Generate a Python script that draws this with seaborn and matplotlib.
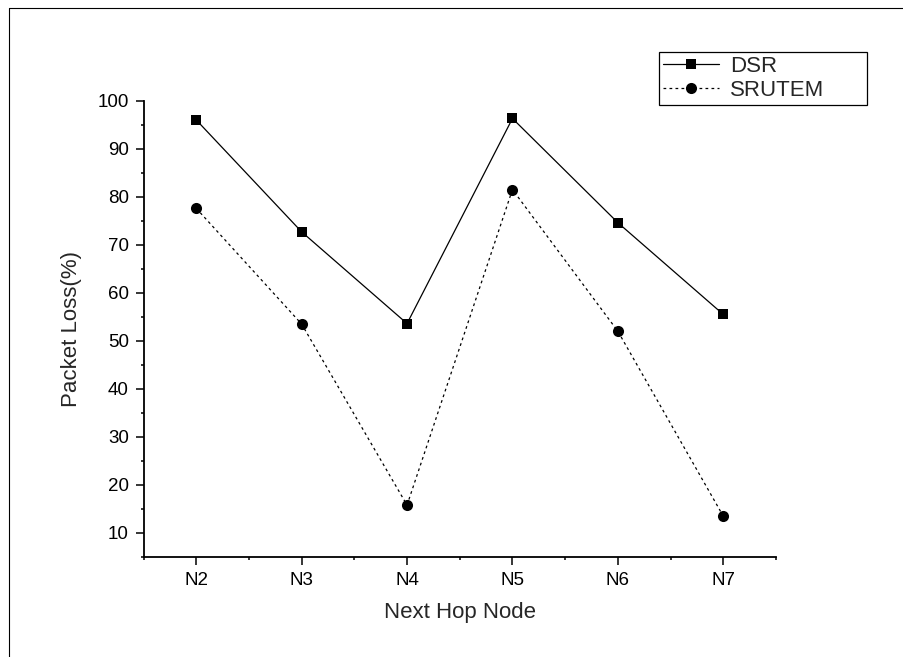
import matplotlib
matplotlib.use("Agg")
import matplotlib.pyplot as plt
import seaborn as sns
import pandas as pd
from matplotlib.lines import Line2D
from matplotlib.ticker import MultipleLocator

nodes = ["N2", "N3", "N4", "N5", "N6", "N7"]
dsr = [96.0, 72.7, 53.6, 96.3, 74.6, 55.5]
srutem = [77.6, 53.5, 15.8, 81.5, 52.0, 13.5]

sns.set_style("ticks")
plt.rcParams['font.family'] = ['Liberation Sans', 'DejaVu Sans']

df = pd.DataFrame({"Node": nodes, "DSR": dsr, "SRUTEM": srutem})

fig = plt.figure(figsize=(9.04, 6.57), dpi=100)
ax = fig.add_axes([143.5 / 904, 1 - 557 / 657, (776 - 143.5) / 904, (557 - 100.7) / 657])

sns.lineplot(data=df, x="Node", y="DSR", ax=ax, color="black", linewidth=0.9,
             marker="s", markersize=7, markeredgewidth=0, label="DSR")
sns.lineplot(data=df, x="Node", y="SRUTEM", ax=ax, color="black", linewidth=0.9,
             marker="o", markersize=8, markeredgewidth=0, label="SRUTEM")
ax.lines[1].set_dashes([2.2, 2.6])

ax.set_xlim(-0.5, 5.5)
ax.set_ylim(5, 100)
ax.yaxis.set_major_locator(MultipleLocator(10))
ax.yaxis.set_minor_locator(MultipleLocator(5))
ax.set_xticks(range(len(nodes)))
ax.set_xticklabels(nodes)
ax.set_xticks([i - 0.5 for i in range(len(nodes) + 1)], minor=True)
ax.set_yticks([10, 20, 30, 40, 50, 60, 70, 80, 90, 100])

for s in ["top", "right"]:
    ax.spines[s].set_visible(False)
for s in ["left", "bottom"]:
    ax.spines[s].set_linewidth(1.3)
    ax.spines[s].set_color("black")

ax.tick_params(axis="both", which="major", direction="out", length=5.5, width=1.1,
               labelsize=13.5, pad=5, colors="black")
ax.tick_params(axis="both", which="minor", direction="out", length=2.5, width=1.1,
               colors="black")

ax.set_xlabel("Next Hop Node", fontsize=16, labelpad=10)
ax.set_ylabel("Packet Loss(%)", fontsize=16, labelpad=11)

leg = ax.legend(loc="upper left",
                bbox_to_anchor=(659 / 904, 1 - 51.7 / 657, 208 / 904, 0),
                bbox_transform=fig.transFigure, mode="expand",
                frameon=True, fancybox=False, edgecolor="black", framealpha=1,
                borderaxespad=0, borderpad=0.2, handlelength=2.5,
                handletextpad=0.5, labelspacing=0.12, fontsize=16)
leg.get_frame().set_linewidth(0.9)

# outer frame (only top and left visible in reference)
fig.add_artist(Line2D([9 / 904, 1], [1 - 8 / 657, 1 - 8 / 657], color="black", linewidth=0.8))
fig.add_artist(Line2D([9 / 904, 9 / 904], [0, 1 - 8 / 657], color="black", linewidth=0.8))

fig.savefig("out.png", dpi=100)
